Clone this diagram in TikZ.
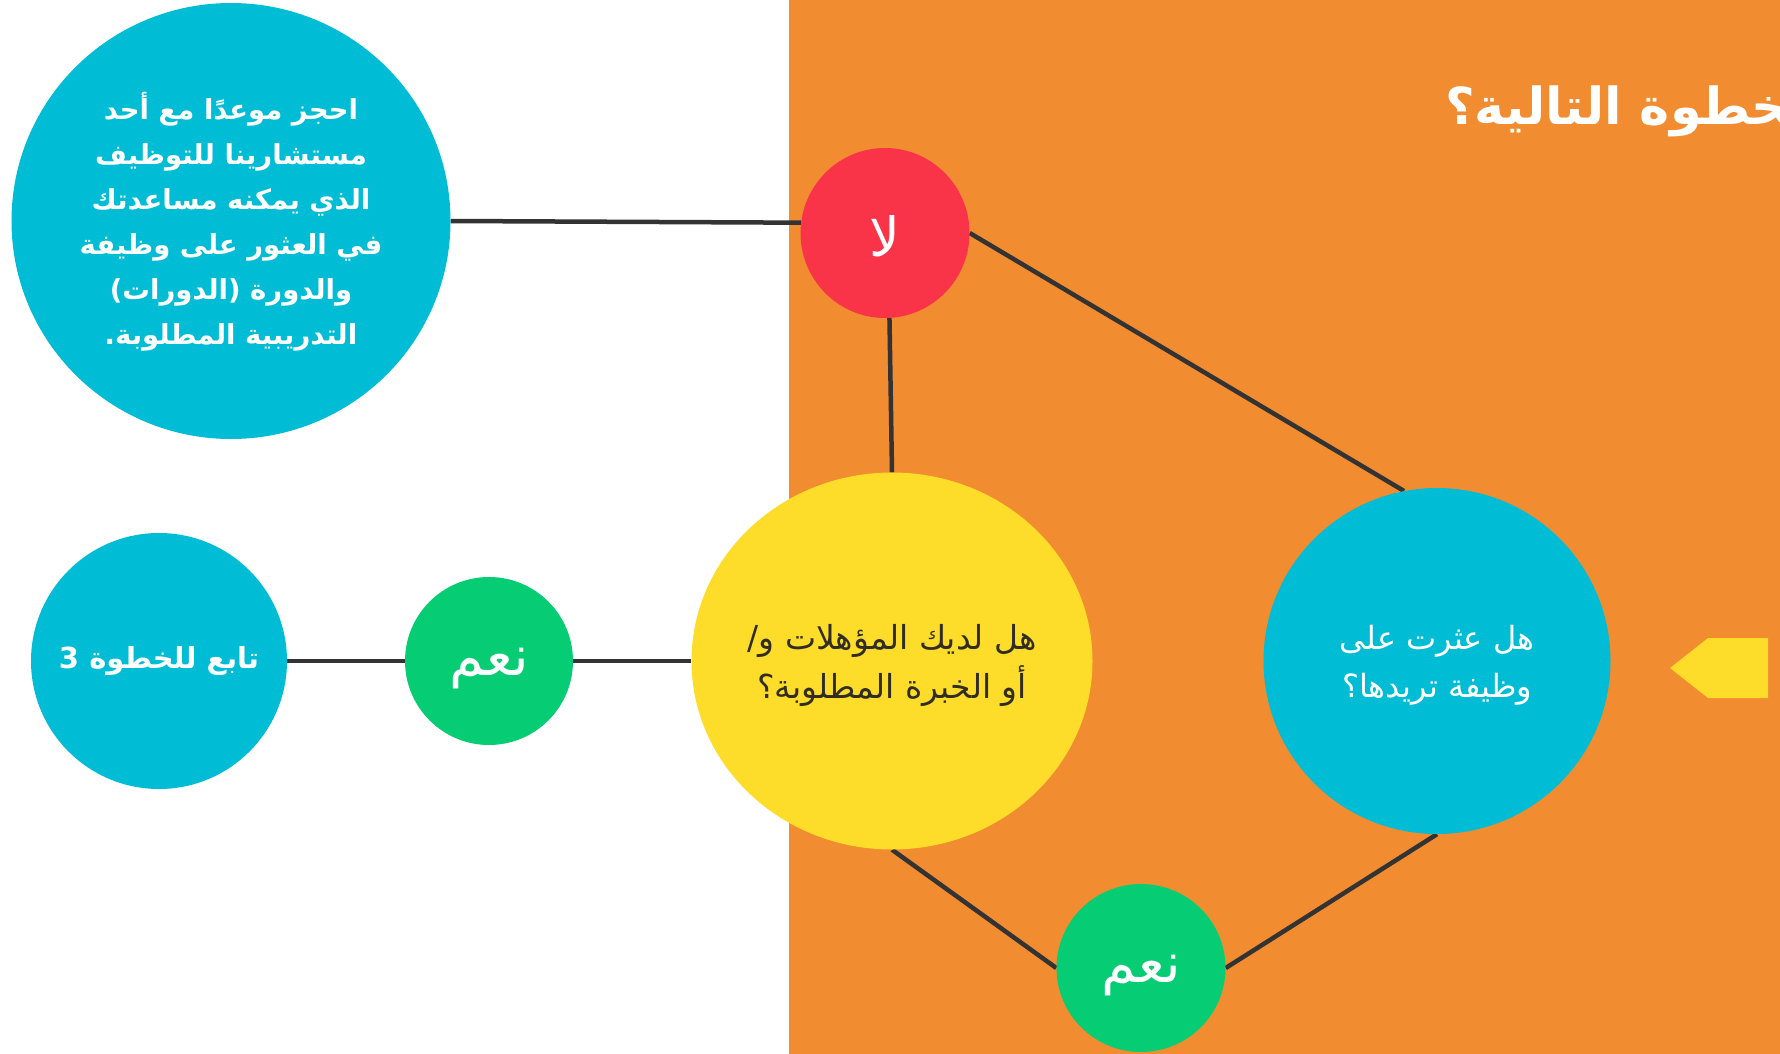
\documentclass[tikz,border=0pt]{standalone}
\usepackage{fontspec}
\usetikzlibrary{shapes.geometric}
\TeXXeTstate=1
\newfontfamily\arabicfont[Script=Arabic]{DejaVu Sans}
\definecolor{orangebg}{RGB}{242,140,48}
\definecolor{cyanc}{RGB}{0,188,212}
\definecolor{redc}{RGB}{250,52,72}
\definecolor{yellowc}{RGB}{253,220,42}
\definecolor{greenc}{RGB}{6,204,116}
\definecolor{linec}{RGB}{51,51,51}
\definecolor{darktext}{RGB}{50,45,35}
\pgfdeclarelayer{back}
\pgfdeclarelayer{lines}
\pgfsetlayers{back,lines,main}
\tikzset{
  blob/.style={ellipse, inner sep=0pt, draw=none},
  conn/.style={draw=linec, line width=4.5pt},
  wtext/.style={text=white, align=center, inner sep=0pt, font=\arabicfont},
}
\begin{document}
\begin{tikzpicture}[x=1pt,y=-1pt]
\useasboundingbox (0,0) rectangle (1780,1054);
\begin{pgfonlayer}{back}
\fill[orangebg] (789,-2) rectangle (1782,1056);
\end{pgfonlayer}
% circles
\node[blob, fill=cyanc, minimum width=439pt, minimum height=436pt] (bc) at (231,221) {};
\node[blob, fill=redc, minimum width=169pt, minimum height=170pt] (red) at (885,233) {};
\node[blob, fill=yellowc, minimum width=401pt, minimum height=377pt] (yel) at (892,661) {};
\node[blob, fill=cyanc, minimum width=347pt, minimum height=346pt] (rc) at (1437,661) {};
\node[blob, fill=greenc, minimum width=169pt, minimum height=168pt] (gb) at (1141,968) {};
\node[blob, fill=greenc, minimum width=168pt, minimum height=168pt] (gl) at (489,661) {};
\node[blob, fill=cyanc, minimum width=256pt, minimum height=256pt] (lc) at (159,661) {};
% arrow
\fill[yellowc] (1670,668) -- (1708,638) -- (1768,638) -- (1768,698) -- (1708,698) -- cycle;
% texts
\node[wtext, font=\arabicfont\bfseries\fontsize{27.5}{45}\selectfont] (bcT) at ([yshift=-1pt]bc.center) {%
\beginR احجز موعدًا مع أحد\endR\\
\beginR مستشارينا للتوظيف\endR\\
\beginR الذي يمكنه مساعدتك\endR\\
\beginR في العثور على وظيفة\endR\\
\beginR والدورة (الدورات)\endR\\
\beginR التدريبية المطلوبة.\endR};
\node[wtext, font=\arabicfont\fontsize{54}{58}\selectfont] (redT) at ([yshift=-3pt]red.center) {\beginR لا\endR};
\node[wtext, text=darktext, font=\arabicfont\fontsize{33}{49}\selectfont] (yelT) at ([yshift=-4pt]yel.center) {%
\beginR هل لديك المؤهلات و/\endR\\
\beginR أو الخبرة المطلوبة؟\endR};
\node[wtext, font=\arabicfont\fontsize{32}{48}\selectfont] (rcT) at ([yshift=-4pt]rc.center) {%
\beginR هل عثرت على\endR\\
\beginR وظيفة تريدها؟\endR};
\node[wtext, font=\arabicfont\fontsize{56}{60}\selectfont] (gbT) at ([yshift=-8pt]gb.center) {\beginR نعم\endR};
\node[wtext, font=\arabicfont\fontsize{56}{60}\selectfont] (glT) at ([yshift=-8pt]gl.center) {\beginR نعم\endR};
\node[wtext, font=\arabicfont\bfseries\fontsize{29}{33}\selectfont] (lcT) at (lc) {\beginR تابع للخطوة \beginL 3\endL{}\endR};
\node[wtext, anchor=base west, font=\arabicfont\bfseries\fontsize{51}{56}\selectfont] (title) at (1445,125) {\beginR الخطوة التالية؟\endR};
% connectors
\begin{pgfonlayer}{lines}
\draw[conn] (bc.east) -- (red.173);
\draw[conn] (red.-87) -- (yel.north);
\draw[conn] (red.east) -- (rc.101);
\draw[conn] (lc.east) -- (gl.west);
\draw[conn] (gl.east) -- (yel.west);
\draw[conn] (yel.south) -- (gb.west);
\draw[conn] (gb.east) -- (rc.south);
\end{pgfonlayer}
\end{tikzpicture}
\end{document}
